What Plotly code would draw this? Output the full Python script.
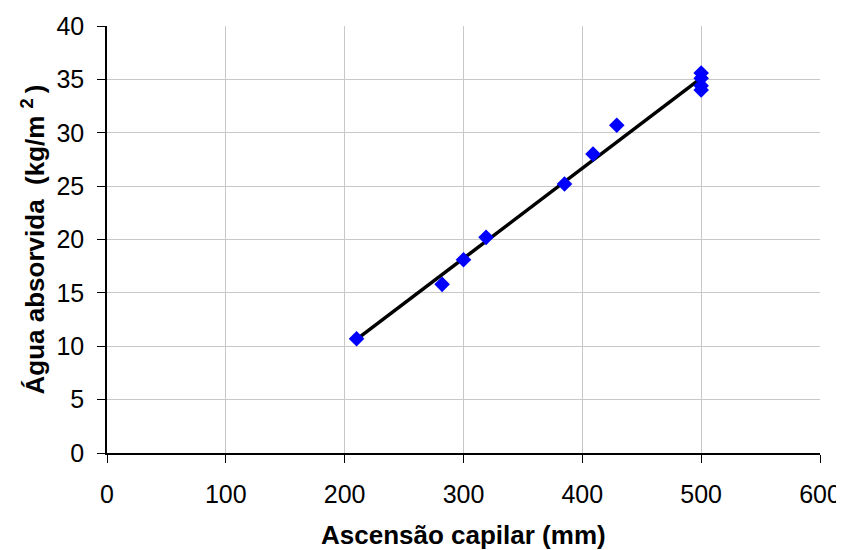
import numpy as np
import plotly.graph_objects as go

ascensao = [210, 282, 300, 319, 385, 409, 429, 500, 500, 500, 500]
agua = [10.7, 15.8, 18.1, 20.2, 25.2, 28.0, 30.7, 35.6, 35.1, 34.4, 34.0]

x_ticks = [0, 100, 200, 300, 400, 500, 600]
y_ticks = [0, 5, 10, 15, 20, 25, 30, 35, 40]

slope, intercept = np.polyfit(ascensao, agua, 1)
line_x = [min(ascensao), max(ascensao)]
line_y = [slope * v + intercept for v in line_x]

fig = go.Figure()
fig.add_trace(go.Scatter(x=line_x, y=line_y, mode="lines",
                         line=dict(color="black", width=3.5), showlegend=False))
fig.add_trace(go.Scatter(x=ascensao, y=agua, mode="markers",
                         marker=dict(symbol="diamond", size=12, color="#0000FF"),
                         showlegend=False))

font = "Liberation Sans, Arial, sans-serif"
fig.update_layout(
    width=836, height=542,
    margin=dict(l=99, r=24, t=18, b=97),
    paper_bgcolor="white", plot_bgcolor="white",
    font=dict(family=font, size=25, color="black"),
)
fig.update_xaxes(
    range=[0, 600], tickvals=x_ticks, ticktext=[str(v) for v in x_ticks],
    tickfont=dict(size=25),
    showgrid=True, gridcolor="#c8c8c8", gridwidth=1,
    showline=True, linecolor="black", linewidth=1.5,
    ticks="outside", ticklen=8, tickcolor="black",
    ticklabelstandoff=10, zeroline=False, automargin=False,
)
fig.add_annotation(
    text="<b>Ascensão capilar (mm)</b>", xref="paper", yref="paper",
    x=0.5, y=-0.192, xanchor="center", yanchor="middle", showarrow=False,
    font=dict(size=26),
)
fig.update_yaxes(
    range=[0, 40], tickvals=y_ticks, ticktext=[str(v) for v in y_ticks],
    tickfont=dict(size=25),
    showgrid=True, gridcolor="#c8c8c8", gridwidth=1,
    showline=True, linecolor="black", linewidth=1.5,
    ticks="outside", ticklen=8, tickcolor="black",
    ticklabelstandoff=8, zeroline=False, automargin=False,
    title=dict(text="<b>Água absorvida  (kg/m <sup>2 </sup>)</b>", font=dict(size=26), standoff=4),
)

fig.write_html("out.html")
